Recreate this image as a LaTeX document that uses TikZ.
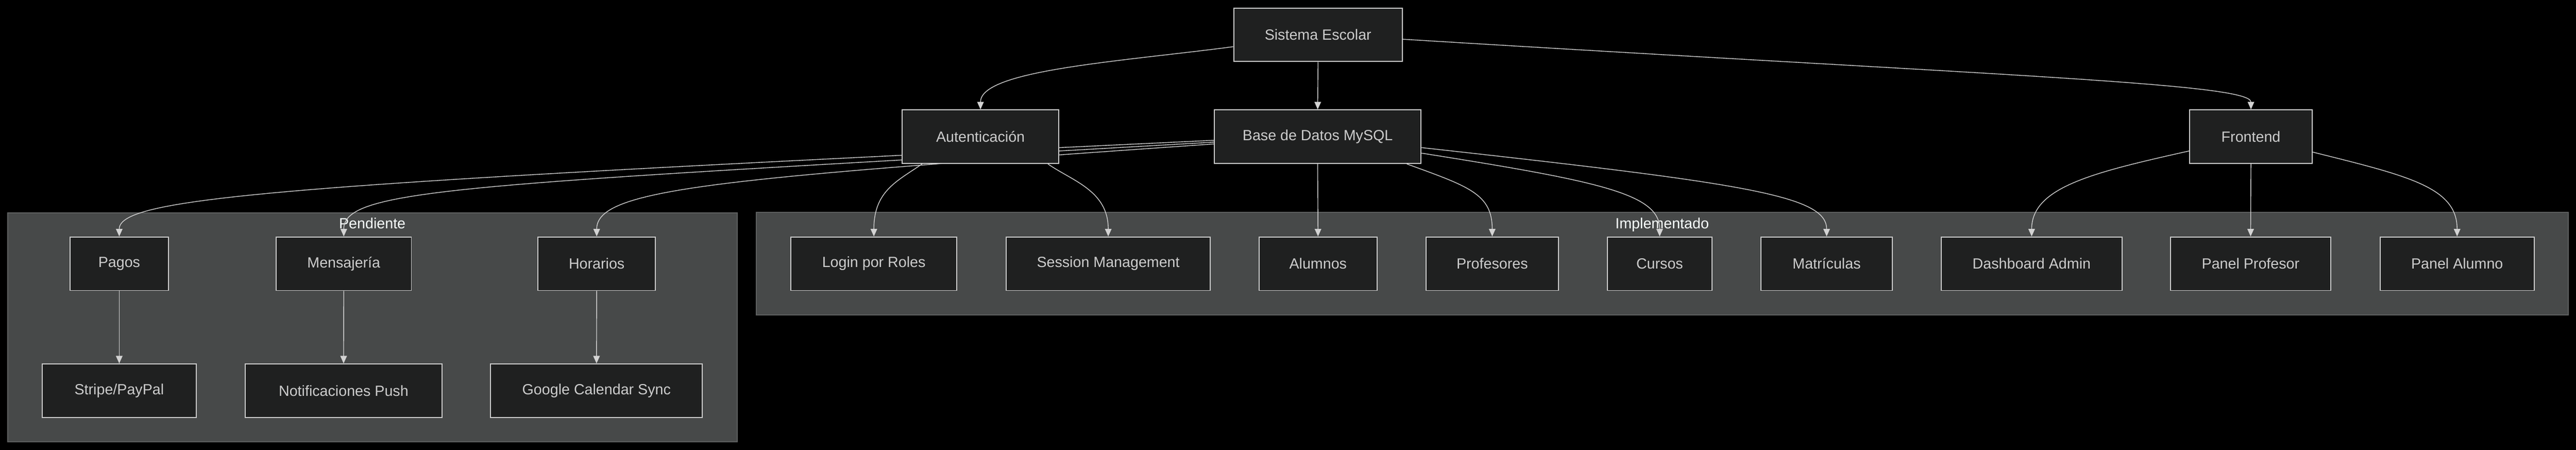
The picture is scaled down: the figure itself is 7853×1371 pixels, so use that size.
\documentclass[tikz,border=0pt]{standalone}
\usepackage{fontspec}
\setmainfont{Liberation Sans}
\usepackage{tikz}
\usetikzlibrary{arrows.meta}
\usetikzlibrary{calc}

\definecolor{nodefill}{HTML}{1F2020}
\definecolor{nodeline}{HTML}{CCCCCC}
\definecolor{nodetext}{HTML}{CCCCCC}
\definecolor{groupfill}{HTML}{474949}
\definecolor{groupline}{HTML}{5E6060}
\definecolor{linkcolor}{HTML}{D3D3D3}
\definecolor{grouptext}{HTML}{F9FFFE}

\newcommand{\boxfont}{\fontsize{12.8}{15}\selectfont}

\pgfdeclarelayer{back}
\pgfdeclarelayer{links}
\pgfsetlayers{back,links,main}

\tikzset{
    box/.style={draw=nodeline, fill=nodefill, line width=0.03cm, text=nodetext,
        minimum height=1.63cm, inner sep=0pt, font=\boxfont},
    group/.style={draw=groupline, fill=groupfill, line width=0.03cm},
    grouplabel/.style={text=grouptext, font=\boxfont, anchor=north, inner sep=0pt},
    link/.style={draw=linkcolor, line width=0.022cm,
        -{Triangle[length=0.23cm,width=0.2cm]}}
}

\begin{document}
\begin{tikzpicture}[x=0.01cm,y=0.01cm]
    \useasboundingbox (0,0) rectangle (7853,-1371);

    \begin{pgfonlayer}{back}
        \fill[black] (0,0) rectangle (7853,-1371);
        \draw[group] (23,-648) rectangle (2247,-1346);
        \draw[group] (2306,-647) rectangle (7829,-960);
        \node[grouplabel] (pendlabel) at (1135,-664) {Pendiente};
        \node[grouplabel] (implabel) at (5067,-664) {Implementado};
    \end{pgfonlayer}

    \node[box, minimum width=5.14cm] (sys) at (4018,-106) {Sistema Escolar};

    \node[box, minimum width=4.78cm] (auth) at (2989,-416.5) {Autenticación};
    \node[box, minimum width=6.30cm] (db) at (4017,-416.5) {Base de Datos MySQL};
    \node[box, minimum width=3.74cm] (front) at (6862,-416.5) {Frontend};

    \node[box, minimum width=2.99cm] (pagos) at (363.5,-803.5) {Pagos};
    \node[box, minimum width=4.12cm] (msg) at (1048,-803.5) {Mensajería};
    \node[box, minimum width=3.58cm] (hor) at (1819,-803.5) {Horarios};
    \node[box, minimum width=5.06cm] (login) at (2664,-803.5) {Login por Roles};
    \node[box, minimum width=6.21cm] (sess) at (3378.5,-803.5) {Session Management};
    \node[box, minimum width=3.60cm] (alu) at (4018,-803.5) {Alumnos};
    \node[box, minimum width=4.04cm] (prof) at (4549,-803.5) {Profesores};
    \node[box, minimum width=3.19cm] (cur) at (5059.5,-803.5) {Cursos};
    \node[box, minimum width=3.99cm] (mat) at (5568.5,-803.5) {Matrículas};
    \node[box, minimum width=5.51cm] (dash) at (6193.5,-803.5) {Dashboard Admin};
    \node[box, minimum width=4.88cm] (pprof) at (6861,-803.5) {Panel Profesor};
    \node[box, minimum width=4.69cm] (palu) at (7490.5,-803.5) {Panel Alumno};

    \node[box, minimum width=4.69cm] (stripe) at (363.5,-1190.5) {Stripe/PayPal};
    \node[box, minimum width=5.99cm] (push) at (1047.5,-1190.5) {Notificaciones Push};
    \node[box, minimum width=6.45cm] (gcal) at (1818.5,-1190.5) {Google Calendar Sync};

    \begin{pgfonlayer}{links}
        \draw[link] (sys.188.5) .. controls +(187.5:350) and +(90:120) .. (auth.north);
        \draw[link] (sys.south) -- (db.north);
        \draw[link] (sys.357.2) .. controls +(-3.5:1800) and +(90:80) .. (front.north);

        \draw[link] (auth.205.5) .. controls +(215:90) and +(90:140) .. (login.north);
        \draw[link] (auth.338.2) .. controls +(-35:90) and +(90:140) .. (sess.north);

        \draw[link] (db.182.45) .. controls +(182.7:2805) and +(90:122) .. (pagos.north);
        \draw[link] (db.183) .. controls +(183.3:2256) and +(90:150) .. (msg.north);
        \draw[link] (db.184.3) .. controls +(184:1506) and +(90:147) .. (hor.north);
        \draw[link] (db.south) -- (alu.north);
        \draw[link] (db.343.6) .. controls +(-20:200) and +(90:130) .. (prof.north);
        \draw[link] (db.351.6) .. controls +(-9:550) and +(90:130) .. (cur.north);
        \draw[link] (db.354.1) .. controls +(-6.3:990) and +(90:125) .. (mat.north);

        \draw[link] (front.193.4) .. controls +(192.6:300) and +(90:150) .. (dash.north);
        \draw[link] (front.south) -- (pprof.north);
        \draw[link] (front.346) .. controls +(-14:300) and +(90:150) .. (palu.north);

        \draw[link] (pagos.south) -- (stripe.north);
        \draw[link] (msg.south) -- (push.north);
        \draw[link] (hor.south) -- (gcal.north);
    \end{pgfonlayer}
\end{tikzpicture}
\end{document}
